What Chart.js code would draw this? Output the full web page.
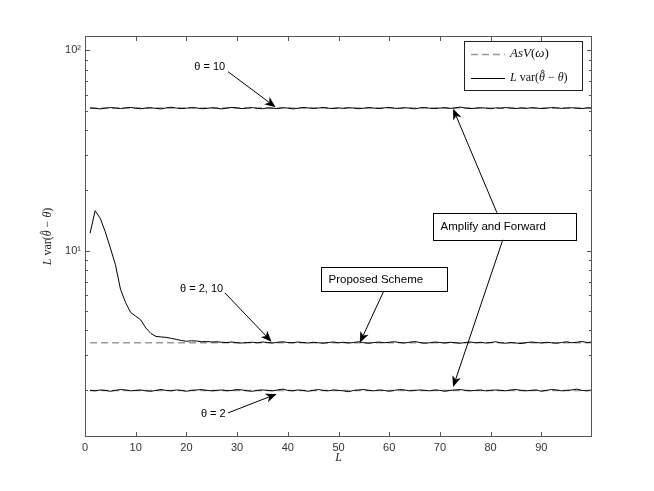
<!DOCTYPE html>
<html>
<head>
<meta charset="utf-8">
<script src="https://cdn.jsdelivr.net/npm/chart.js@4/dist/chart.umd.min.js"></script>
<style>
  body { margin: 0; background: #fff; }
  #wrap { width: 654px; height: 491px; }
</style>
</head>
<body>
<div id="wrap"><canvas id="chart" width="654" height="491"></canvas></div>
<script>
  // L = 1..100 (x categories)
  const L = Array.from({ length: 100 }, (_, i) => i + 1);

  // simulated L var(theta_hat - theta), theta = 10
  const theta10 = [
    51.6, 51.3, 51.0, 51.4, 51.8, 51.5, 51.2, 51.6, 51.9, 51.4, 51.1, 51.5, 51.7, 51.3, 51.0, 51.6, 52.0, 51.5, 51.2, 51.4,
    51.8, 51.6, 51.1, 51.3, 51.7, 51.4, 51.0, 51.5, 51.9, 51.6, 51.2, 51.5, 51.8, 51.3, 51.1, 51.6, 51.4, 51.2, 51.7, 51.5,
    51.0, 51.4, 51.8, 51.6, 51.3, 51.5, 51.9, 51.4, 51.2, 51.6, 51.3, 51.7, 51.5, 51.1, 51.4, 51.8, 51.5, 51.2, 51.6, 51.9,
    51.4, 51.3, 51.7, 51.5, 51.0, 51.6, 51.8, 51.4, 51.2, 51.5, 51.7, 51.3, 51.6, 52.1, 51.5, 51.2, 51.4, 51.7, 51.5, 51.1,
    51.6, 51.4, 51.8, 51.5, 51.2, 51.6, 51.3, 51.7, 51.5, 51.2, 51.4, 51.8, 51.6, 51.3, 51.5, 51.7, 51.4, 51.2, 51.6, 51.5
  ];

  // proposed scheme, theta = 2, 10
  const proposed = [
    12.2, 15.8, 14.5, 12.4, 10.3, 8.5, 6.4, 5.5, 4.9, 4.7, 4.5, 4.1, 3.85, 3.72, 3.70, 3.68, 3.64, 3.60, 3.55, 3.52,
    3.54, 3.53, 3.50, 3.51, 3.49, 3.50, 3.48, 3.47, 3.49, 3.46, 3.45, 3.47, 3.48, 3.46, 3.49, 3.47, 3.45, 3.48, 3.50, 3.47,
    3.46, 3.49, 3.47, 3.45, 3.48, 3.46, 3.44, 3.47, 3.49, 3.46, 3.48, 3.45, 3.47, 3.50, 3.46, 3.44, 3.47, 3.49, 3.46, 3.48,
    3.50, 3.47, 3.45, 3.48, 3.51, 3.47, 3.44, 3.46, 3.49, 3.47, 3.45, 3.48, 3.46, 3.44, 3.47, 3.49, 3.46, 3.48, 3.45, 3.47,
    3.50, 3.46, 3.44, 3.47, 3.45, 3.43, 3.46, 3.49, 3.47, 3.45, 3.48, 3.46, 3.44, 3.47, 3.50, 3.46, 3.48, 3.51, 3.47, 3.49
  ];

  // theta = 2
  const theta2 = [
    2.00, 1.99, 2.01, 2.00, 1.98, 2.00, 2.02, 2.01, 1.99, 2.00, 2.01, 1.99, 1.98, 2.00, 2.02, 2.00, 1.99, 2.01, 2.00, 1.98,
    2.00, 2.01, 2.02, 2.00, 1.99, 2.00, 2.01, 1.99, 2.00, 2.02, 2.01, 1.99, 1.98, 2.00, 2.01, 2.00, 1.99, 2.01, 2.03, 2.00,
    1.99, 2.01, 2.00, 1.98, 2.00, 2.02, 2.00, 1.99, 2.01, 2.00, 1.99, 1.97, 2.00, 2.01, 2.02, 2.00, 1.99, 2.01, 2.00, 1.98,
    2.00, 2.02, 2.01, 1.99, 2.00, 2.01, 2.00, 1.99, 2.01, 2.00, 1.98, 2.00, 2.01, 2.02, 2.00, 1.99, 2.00, 2.01, 1.99, 2.00,
    2.01, 2.00, 1.99, 2.01, 2.02, 2.00, 1.99, 2.00, 2.01, 1.98, 2.00, 2.02, 2.01, 1.99, 2.00, 2.01, 2.03, 2.00, 1.99, 2.01
  ];

  // asymptotic variance AsV(w) levels
  const asvLevels = [51.5, 3.46, 2.0];

  // axis ticks
  const xTicks = [0, 10, 20, 30, 40, 50, 60, 70, 80, 90];
  const yMajor = [10, 100];
  const yMajorLabels = ['10\u00B9', '10\u00B2'];
  const yMinor = [2, 3, 4, 5, 6, 7, 8, 9, 20, 30, 40, 50, 60, 70, 80, 90];

  // annotations, in data coordinates (L, value)
  const labelNotes = [
    { text: '\u03B8 = 10', at: [24.6, 82.9], tail: [28.2, 78.3], head: [37.6, 52.0] },
    { text: '\u03B8 = 2, 10', at: [23.0, 6.43], tail: [27.6, 6.14], head: [36.8, 3.50] },
    { text: '\u03B8 = 2', at: [25.3, 1.52], tail: [28.2, 1.543], head: [37.8, 1.92] }
  ];
  const boxNotes = [
    { text: 'Proposed Scheme', box: [46.5, 8.29, 71.4, 6.29],
      arrows: [{ tail: [58.95, 6.29], head: [54.2, 3.46] }] },
    { text: 'Amplify and Forward', box: [68.6, 15.44, 96.85, 11.31],
      arrows: [{ tail: [81.25, 15.44], head: [72.6, 51.1] }, { tail: [82.4, 11.31], head: [72.6, 2.08] }] }
  ];

  // [text, italic, hat]
  const varLabel = [['L', true], [' var(', false], ['\u03B8', true, true], [' \u2212 ', false], ['\u03B8', true], [')', false]];
  const asvLabel = [['AsV', true], ['(', false], ['\u03C9', true], [')', false]];

  function mathWidth(ctx, parts, size) {
    let w = 0;
    parts.forEach(p => {
      ctx.font = (p[1] ? 'italic ' : '') + size + 'px "Liberation Serif"';
      w += ctx.measureText(p[0]).width;
    });
    return w;
  }

  function drawMath(ctx, parts, x, y, size, align) {
    let cx = x;
    if (align === 'center') cx = x - mathWidth(ctx, parts, size) / 2;
    ctx.textBaseline = 'middle';
    ctx.textAlign = 'left';
    parts.forEach(p => {
      ctx.font = (p[1] ? 'italic ' : '') + size + 'px "Liberation Serif"';
      ctx.fillText(p[0], cx, y);
      const w = ctx.measureText(p[0]).width;
      if (p[2]) {
        // hat over theta
        const hx = cx + w * 0.62, half = w * 0.28;
        ctx.save();
        ctx.strokeStyle = ctx.fillStyle;
        ctx.lineWidth = 0.8;
        ctx.beginPath();
        ctx.moveTo(hx - half, y - size * 0.5);
        ctx.lineTo(hx, y - size * 0.68);
        ctx.lineTo(hx + half, y - size * 0.5);
        ctx.stroke();
        ctx.restore();
      }
      cx += w;
    });
  }

  function drawArrow(ctx, x1, y1, x2, y2) {
    const ang = Math.atan2(y2 - y1, x2 - x1);
    const len = 11, half = 4.5, notch = 8;
    const bx = x2 - Math.cos(ang) * notch, by = y2 - Math.sin(ang) * notch;
    ctx.beginPath();
    ctx.moveTo(x1, y1);
    ctx.lineTo(bx, by);
    ctx.stroke();
    const c = Math.cos(ang), s = Math.sin(ang);
    ctx.beginPath();
    ctx.moveTo(x2, y2);
    ctx.lineTo(x2 - c * len - s * half, y2 - s * len + c * half);
    ctx.lineTo(bx, by);
    ctx.lineTo(x2 - c * len + s * half, y2 - s * len - c * half);
    ctx.closePath();
    ctx.fill();
  }

  const figureExtras = {
    id: 'figureExtras',
    afterDraw(chart) {
      const ctx = chart.ctx;
      const area = chart.chartArea;
      const xs = chart.scales.x, ys = chart.scales.y;
      const px = v => xs.getPixelForValue(v);
      const py = v => ys.getPixelForValue(v);

      ctx.save();
      // axes box and inward ticks
      ctx.strokeStyle = '#555';
      ctx.lineWidth = 1;
      ctx.strokeRect(area.left + 0.5, area.top + 0.5, area.width - 1, area.height - 1);
      ctx.beginPath();
      xTicks.forEach(v => {
        const x = Math.round(px(v)) + 0.5;
        ctx.moveTo(x, area.bottom); ctx.lineTo(x, area.bottom - 5);
        ctx.moveTo(x, area.top); ctx.lineTo(x, area.top + 5);
      });
      yMajor.forEach(v => {
        const y = Math.round(py(v)) + 0.5;
        ctx.moveTo(area.left, y); ctx.lineTo(area.left + 5, y);
        ctx.moveTo(area.right, y); ctx.lineTo(area.right - 5, y);
      });
      yMinor.forEach(v => {
        const y = Math.round(py(v)) + 0.5;
        ctx.moveTo(area.left, y); ctx.lineTo(area.left + 3, y);
        ctx.moveTo(area.right, y); ctx.lineTo(area.right - 3, y);
      });
      ctx.stroke();

      // axis titles
      ctx.fillStyle = '#222';
      drawMath(ctx, [['L', true]], (area.left + area.right) / 2, 458, 12, 'center');
      ctx.save();
      ctx.translate(48, (area.top + area.bottom) / 2);
      ctx.rotate(-Math.PI / 2);
      drawMath(ctx, varLabel, 0, 0, 12, 'center');
      ctx.restore();

      // legend
      const lw = 118, lh = 49;
      const lx = area.right - 10 - lw, ly = area.top + 5;
      ctx.fillStyle = '#fff';
      ctx.fillRect(lx, ly, lw, lh);
      ctx.strokeStyle = '#222';
      ctx.strokeRect(lx + 0.5, ly + 0.5, lw, lh);
      ctx.strokeStyle = '#999';
      ctx.lineWidth = 1.5;
      ctx.setLineDash([7, 4]);
      ctx.beginPath();
      ctx.moveTo(lx + 7, ly + 13.5); ctx.lineTo(lx + 41, ly + 13.5);
      ctx.stroke();
      ctx.setLineDash([]);
      ctx.strokeStyle = '#000';
      ctx.lineWidth = 1;
      ctx.beginPath();
      ctx.moveTo(lx + 7, ly + 37.5); ctx.lineTo(lx + 41, ly + 37.5);
      ctx.stroke();
      ctx.fillStyle = '#111';
      drawMath(ctx, asvLabel, lx + 46, ly + 13, 13, 'left');
      drawMath(ctx, varLabel, lx + 46, ly + 37, 12, 'left');

      // labels with arrows
      ctx.fillStyle = '#000';
      ctx.strokeStyle = '#000';
      ctx.lineWidth = 1;
      labelNotes.forEach(n => {
        ctx.font = '11px "Liberation Sans"';
        ctx.textAlign = 'center';
        ctx.textBaseline = 'middle';
        ctx.fillText(n.text, px(n.at[0]), py(n.at[1]));
        drawArrow(ctx, px(n.tail[0]), py(n.tail[1]), px(n.head[0]), py(n.head[1]));
      });

      // boxed notes with arrows
      boxNotes.forEach(n => {
        const x1 = Math.round(px(n.box[0])) + 0.5, y1 = Math.round(py(n.box[1])) + 0.5;
        const x2 = Math.round(px(n.box[2])) + 0.5, y2 = Math.round(py(n.box[3])) + 0.5;
        ctx.fillStyle = '#fff';
        ctx.fillRect(x1, y1, x2 - x1, y2 - y1);
        ctx.strokeRect(x1, y1, x2 - x1, y2 - y1);
        ctx.fillStyle = '#000';
        ctx.font = '11.5px "Liberation Sans"';
        ctx.textAlign = 'left';
        ctx.textBaseline = 'middle';
        ctx.fillText(n.text, x1 + 7, (y1 + y2) / 2);
        n.arrows.forEach(a => {
          drawArrow(ctx, px(a.tail[0]), py(a.tail[1]), px(a.head[0]), py(a.head[1]));
        });
      });
      ctx.restore();
    }
  };

  const toPoints = arr => L.map((l, i) => ({ x: l, y: arr[i] }));
  const levelPoints = lvl => L.map(l => ({ x: l, y: lvl }));

  const solidStyle = { borderColor: '#000', borderWidth: 1, pointRadius: 0, tension: 0, fill: false, order: 1 };
  const dashStyle = { borderColor: '#9a9a9a', borderWidth: 1.5, borderDash: [7, 4], pointRadius: 0, tension: 0, fill: false, order: 2 };

  const chart = new Chart(document.getElementById('chart').getContext('2d'), {
    type: 'line',
    data: {
      datasets: [
        Object.assign({ label: 'AsV theta=10', data: levelPoints(asvLevels[0]) }, dashStyle),
        Object.assign({ label: 'AsV proposed', data: levelPoints(asvLevels[1]) }, dashStyle),
        Object.assign({ label: 'AsV theta=2', data: levelPoints(asvLevels[2]) }, dashStyle),
        Object.assign({ label: 'theta=10', data: toPoints(theta10) }, solidStyle),
        Object.assign({ label: 'proposed', data: toPoints(proposed) }, solidStyle),
        Object.assign({ label: 'theta=2', data: toPoints(theta2) }, solidStyle)
      ]
    },
    options: {
      responsive: false,
      devicePixelRatio: 1,
      animation: false,
      layout: { padding: { top: 36, right: 62, left: 0, bottom: 0 } },
      plugins: { legend: { display: false }, tooltip: { enabled: false } },
      scales: {
        x: {
          type: 'linear', min: 0, max: 100,
          grid: { display: false, drawTicks: false },
          border: { display: false },
          ticks: {
            padding: 4, color: '#333', maxRotation: 0, autoSkip: false,
            font: { family: 'Liberation Sans', size: 11 },
            callback: v => xTicks.includes(v) ? String(v) : ''
          },
          afterBuildTicks: s => { s.ticks = xTicks.map(v => ({ value: v })); },
          afterFit: s => { s.height = 54; }
        },
        y: {
          type: 'logarithmic', min: 1.17, max: 118,
          grid: { display: false, drawTicks: false },
          border: { display: false },
          ticks: {
            padding: 4, color: '#333', autoSkip: false,
            font: { family: 'Liberation Sans', size: 11 },
            callback: v => { const i = yMajor.indexOf(v); return i >= 0 ? yMajorLabels[i] : ''; }
          },
          afterBuildTicks: s => { s.ticks = yMajor.map(v => ({ value: v })); },
          afterFit: s => { s.width = 85; }
        }
      }
    },
    plugins: [figureExtras]
  });
</script>
</body>
</html>
